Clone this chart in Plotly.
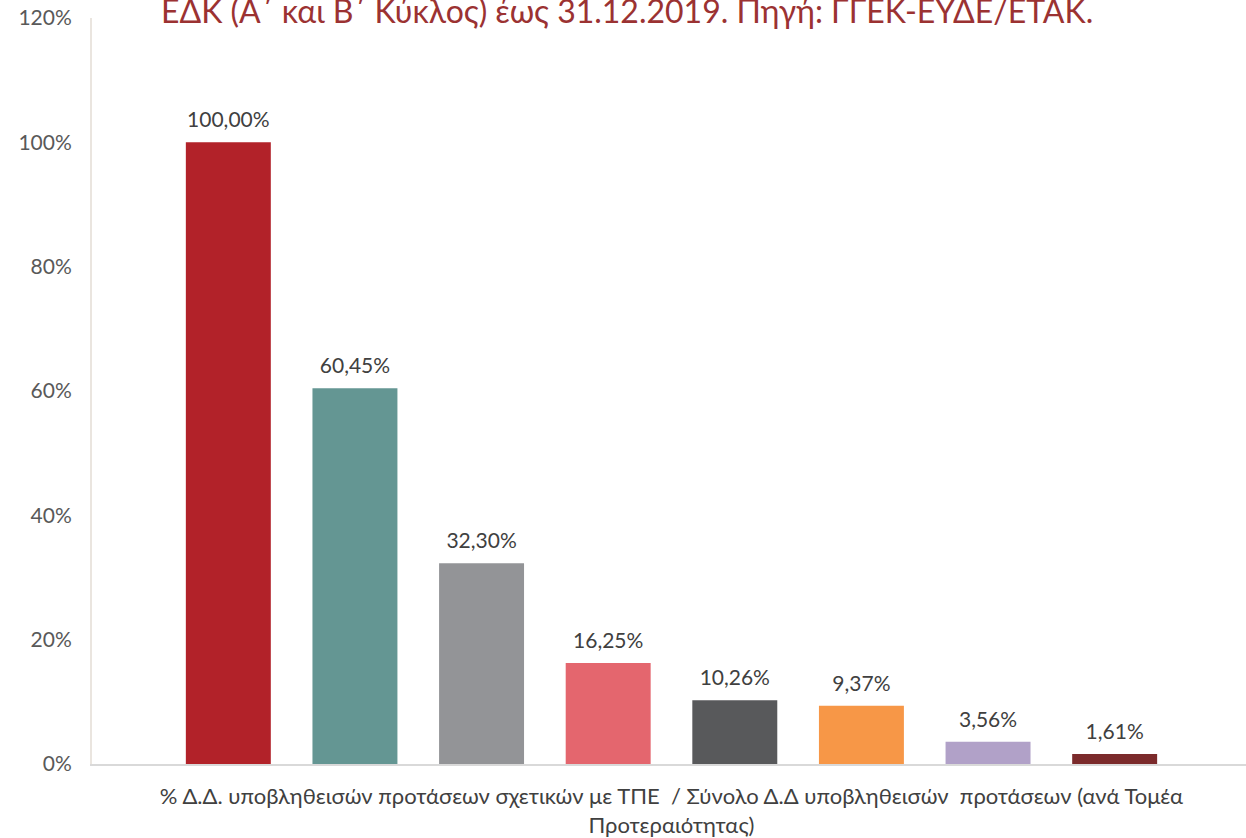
import plotly.graph_objects as go

# κατηγορία (μία) και τιμές ανά Τομέα Προτεραιότητας
category = ["% Δ.Δ. υποβληθεισών προτάσεων σχετικών με ΤΠΕ  / Σύνολο Δ.Δ υποβληθεισών  προτάσεων (ανά Τομέα<br>Προτεραιότητας)"]
series_names = ["Σύνολο", "Τομέας 2", "Τομέας 3", "Τομέας 4", "Τομέας 5", "Τομέας 6", "Τομέας 7", "Τομέας 8"]
series_values = [1.0, 0.6045, 0.3230, 0.1625, 0.1026, 0.0937, 0.0356, 0.0161]
colors = ["#B22229", "#649693", "#939497", "#E4666E", "#58595B", "#F79747", "#B1A1C8", "#7B2A2B"]

title_text = "ΕΔΚ (Α΄ και Β΄ Κύκλος) έως 31.12.2019. Πηγή: ΓΓΕΚ-ΕΥΔΕ/ΕΤΑΚ."
font_family = "Lato, 'Open Sans', sans-serif"

fig = go.Figure()
for name, val, col in zip(series_names, series_values, colors):
    fig.add_trace(go.Bar(
        x=category,
        y=[val],
        name=name,
        marker=dict(color=col, line=dict(width=0)),
        hoverinfo="skip",
    ))

# ετικέτες τιμών: αόρατα σημεία σε ομάδες, ώστε να στέκονται πάνω από κάθε στήλη
for name, val in zip(series_names, series_values):
    fig.add_trace(go.Scatter(
        x=category,
        y=[val],
        name=name,
        mode="markers+text",
        marker=dict(size=14, color="rgba(0,0,0,0)"),
        texttemplate="%{y:.2%}",
        textposition="top center",
        textfont=dict(size=21, color="#404040", family=font_family),
        cliponaxis=False,
        showlegend=False,
        hoverinfo="skip",
    ))

# τίτλος (κομμένος στο πάνω μέρος όπως στο πρωτότυπο)
fig.add_annotation(
    text=title_text,
    xref="paper", yref="paper",
    x=0.464, y=1, xanchor="center", yanchor="bottom",
    yshift=-14,
    showarrow=False,
    font=dict(size=32, color="#9B3232", family=font_family),
)

fig.update_layout(
    width=1246,
    height=838,
    margin=dict(l=92, r=0, t=18, b=72),
    paper_bgcolor="white",
    plot_bgcolor="white",
    barmode="group",
    scattermode="group",
    bargap=0.126,
    bargroupgap=0.329,
    scattergap=0.126,
    separators=",.",
    showlegend=False,
    font=dict(family=font_family, color="#595959"),
)
fig.update_xaxes(
    range=[-0.5, 0.4957],
    showline=True, linecolor="#D9D9D9", linewidth=2,
    showgrid=False, ticks="",
    ticklabelstandoff=12,
    tickfont=dict(size=22, color="#404040"),
)
fig.update_yaxes(
    range=[0, 1.2],
    tickvals=[0, 0.2, 0.4, 0.6, 0.8, 1.0, 1.2],
    tickformat=".0%",
    showline=True, linecolor="#EAE5DF", linewidth=2,
    showgrid=False, zeroline=False, ticks="",
    ticklabelstandoff=14,
    ticklabeloverflow="allow",
    tickfont=dict(size=21, color="#595959"),
)

# χωρίς περιθώριο σελίδας, ώστε το γράφημα να ξεκινά από την πάνω αριστερή γωνία
fig.write_html(
    "out.html",
    config={"displayModeBar": False},
    post_script="document.body.style.margin='0';",
)
